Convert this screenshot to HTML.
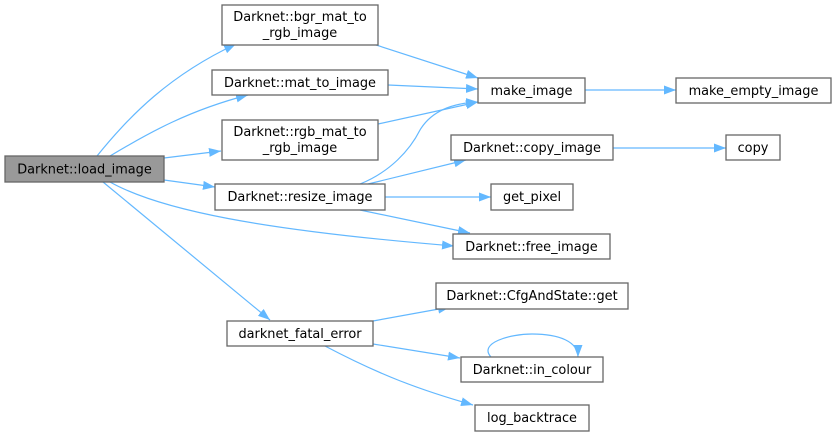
<!DOCTYPE html>
<html><head><meta charset="utf-8"><style>
body{margin:0;background:#fff;width:836px;height:437px;overflow:hidden}
text{font-family:"DejaVu Sans","Liberation Sans",sans-serif;font-size:12.9px;fill:#000}
.b{fill:#fff;stroke:#666;stroke-width:1.3}
.e{fill:none;stroke:#63b8ff;stroke-width:1.2}
</style></head><body>
<svg width="836" height="437" viewBox="0 0 836 437" xmlns="http://www.w3.org/2000/svg">
<defs><marker id="a" viewBox="0 0 12 9" refX="12" refY="4.5" markerWidth="12" markerHeight="9" markerUnits="userSpaceOnUse" orient="auto"><path d="M0,0 L12,4.5 L0,9 z" fill="#63b8ff"/></marker></defs>
<g class="e" marker-end="url(#a)">
<path d="M97,156 C130,115 170,75 236,44"/>
<path d="M110,156 C150,132 190,110 248,95"/>
<path d="M164,158 L221,151"/>
<path d="M164,180 L215,187"/>
<path d="M110,182 C160,210 260,230 454,246"/>
<path d="M103,182 L270,320"/>
<path d="M373,44 L478,78"/>
<path d="M388,85 L478,89"/>
<path d="M378,124 L478,102"/>
<path d="M360,184 C390,172 410,150 420,130 C432,110 455,103 478,102"/>
<path d="M368,184 L466,160"/>
<path d="M385,197 L491,197"/>
<path d="M360,210 L470,233"/>
<path d="M585,90 L676,90"/>
<path d="M613,148 L726,148"/>
<path d="M373,321 L450,307"/>
<path d="M373,344 L460,358"/>
<path d="M325,346 C380,375 420,390 473,405"/>
<path d="M491,357 C478,343 510,334 532,334 C560,334 578,342 578,357"/>
</g>
<rect x="5" y="156" width="159" height="26" fill="#999" stroke="#666" stroke-width="1.3"/>
<text x="84.5" y="173.5" text-anchor="middle">Darknet::load_image</text>
<rect class="b" x="222" y="5" width="156" height="40"/>
<text x="300" y="21" text-anchor="middle">Darknet::bgr_mat_to</text>
<text x="300" y="37" text-anchor="middle">_rgb_image</text>
<rect class="b" x="212" y="70" width="176" height="25"/>
<text x="300" y="87" text-anchor="middle">Darknet::mat_to_image</text>
<rect class="b" x="222" y="120" width="156" height="40"/>
<text x="300" y="136" text-anchor="middle">Darknet::rgb_mat_to</text>
<text x="300" y="152" text-anchor="middle">_rgb_image</text>
<rect class="b" x="215" y="184" width="170" height="26"/>
<text x="300" y="201" text-anchor="middle">Darknet::resize_image</text>
<rect class="b" x="478" y="78" width="107" height="25"/>
<text x="531.5" y="95" text-anchor="middle">make_image</text>
<rect class="b" x="676" y="78" width="155" height="25"/>
<text x="753.5" y="95" text-anchor="middle">make_empty_image</text>
<rect class="b" x="451" y="135" width="162" height="25"/>
<text x="532" y="152" text-anchor="middle">Darknet::copy_image</text>
<rect class="b" x="726" y="135" width="54" height="25"/>
<text x="753" y="152" text-anchor="middle">copy</text>
<rect class="b" x="491" y="184" width="82" height="26"/>
<text x="532" y="201" text-anchor="middle">get_pixel</text>
<rect class="b" x="453" y="234" width="157" height="25"/>
<text x="531.5" y="251" text-anchor="middle">Darknet::free_image</text>
<rect class="b" x="436" y="283" width="192" height="26"/>
<text x="532" y="300" text-anchor="middle">Darknet::CfgAndState::get</text>
<rect class="b" x="227" y="321" width="146" height="25"/>
<text x="300" y="338" text-anchor="middle">darknet_fatal_error</text>
<rect class="b" x="461" y="357" width="142" height="25"/>
<text x="532" y="374" text-anchor="middle">Darknet::in_colour</text>
<rect class="b" x="475" y="405" width="114" height="26"/>
<text x="532" y="422" text-anchor="middle">log_backtrace</text>
</svg>
</body></html>
